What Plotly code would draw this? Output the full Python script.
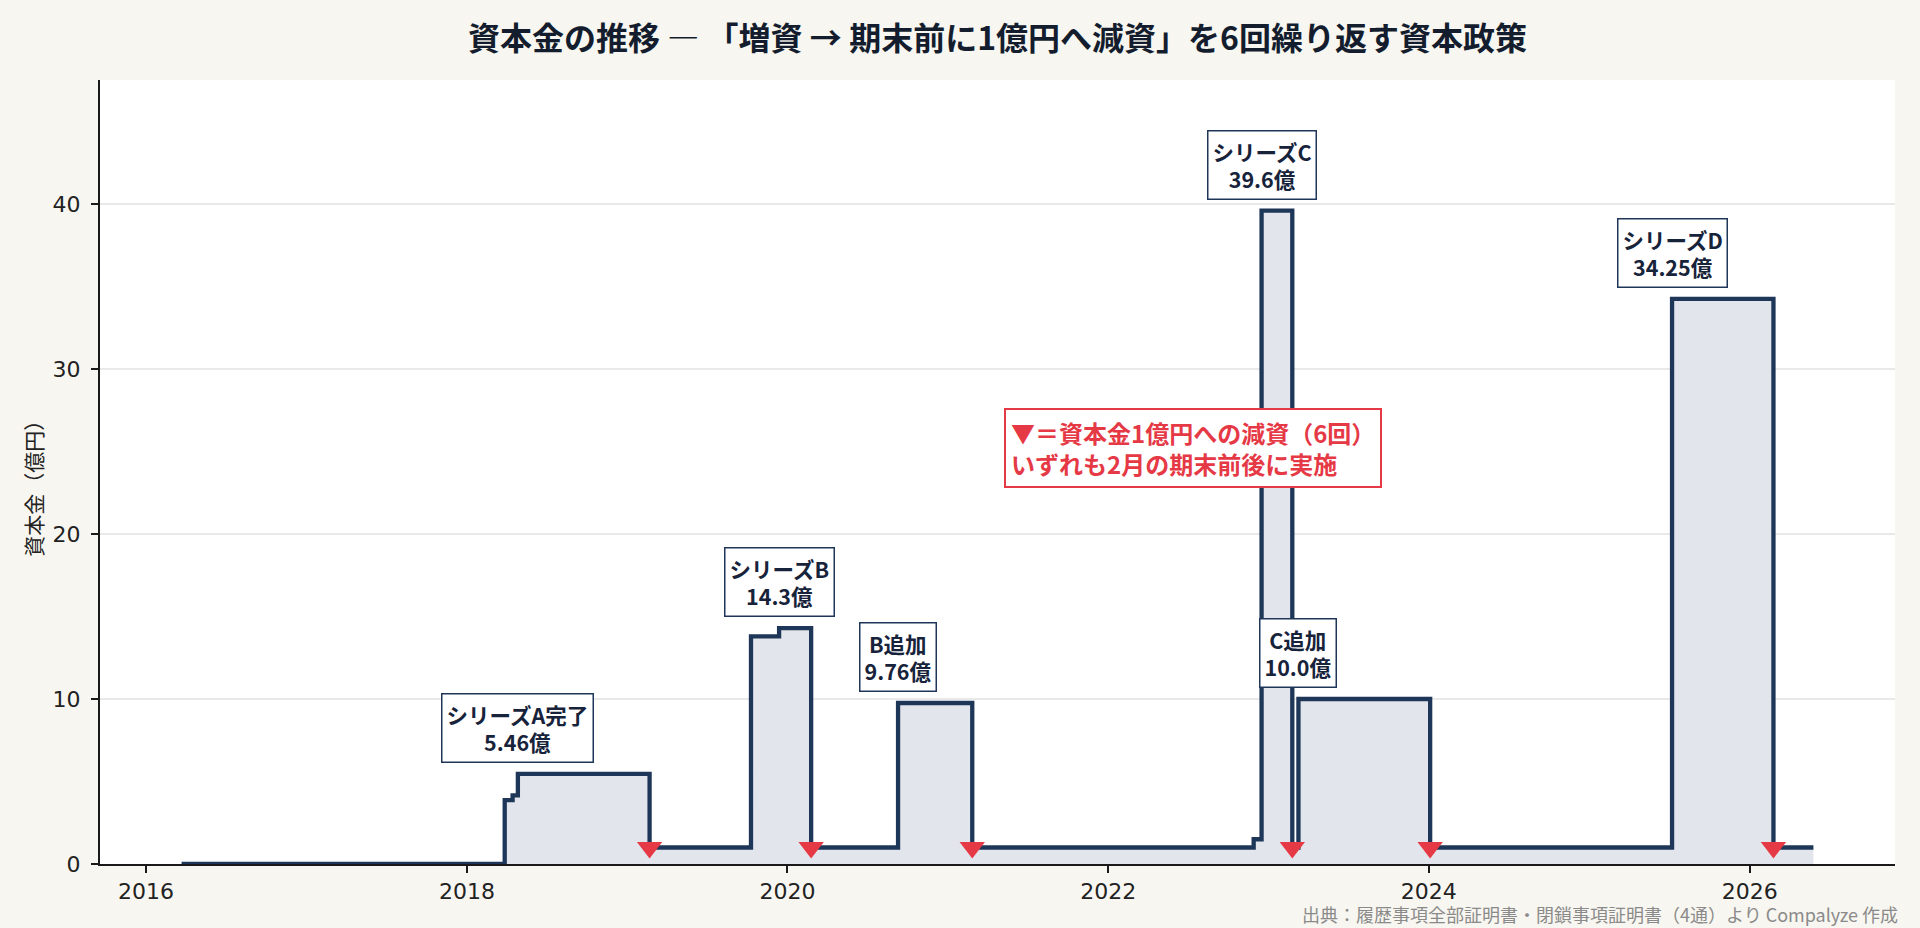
import plotly.graph_objects as go
import pandas as pd

# ---- data (億円) ----
capital_dates = ["2016-03-22", "2018-03-28", "2018-04-15", "2018-04-27", "2019-02-21",
                 "2019-10-10", "2019-12-13", "2020-02-24", "2020-09-09", "2021-02-25",
                 "2022-11-28", "2022-12-16", "2023-02-24", "2023-03-10", "2024-01-04",
                 "2025-07-08", "2026-02-24", "2026-05-26"]
capital_values = [0.01, 3.87, 4.16, 5.46, 1.0,
                  13.8, 14.3, 1.0, 9.76, 1.0,
                  1.5, 39.6, 1.0, 10.0, 1.0,
                  34.25, 1.0, 1.0]

reduction_dates = ["2019-02-21", "2020-02-24", "2021-02-25", "2023-02-24", "2024-01-04", "2026-02-24"]
reduction_values = [1.0, 1.0, 1.0, 1.0, 1.0, 1.0]

label_names = ["シリーズA完了", "シリーズB", "B追加", "シリーズC", "C追加", "シリーズD"]
label_dates = ["2018-04-27", "2019-12-13", "2020-09-09", "2022-12-16", "2023-03-10", "2025-07-08"]
label_values = [5.46, 14.3, 9.76, 39.6, 10.0, 34.25]
label_texts = ["5.46億", "14.3億", "9.76億", "39.6億", "10.0億", "34.25億"]

yticks = [0, 10, 20, 30, 40]

TITLE = "資本金の推移 ― 「増資 → 期末前に1億円へ減資」を6回繰り返す資本政策"
NOTE = "▼＝資本金1億円への減資（6回）<br>いずれも2月の期末前後に実施"
SOURCE = "出典：履歴事項全部証明書・閉鎖事項証明書（4通）より Compalyze 作成"
YLABEL = "資本金（億円）"

NAVY = "#1e3658"
RED = "#e63946"
CJK = "Noto Sans CJK JP"
TICKF = "DejaVu Sans"

d = pd.to_datetime(capital_dates)
span = d.max() - d.min()
xr = [d.min() - span * 0.05, d.max() + span * 0.05]

# plot area in pixels
L, R, T, B = 100, 25, 80, 63.5
PW, PH = 1920 - L - R, 928 - T - B

fig = go.Figure()
fig.add_trace(go.Scatter(
    x=capital_dates, y=capital_values, mode="lines", line_shape="hv",
    line=dict(color=NAVY, width=4.3), fill="tozeroy", fillcolor="#e2e6ec",
    hoverinfo="skip", showlegend=False))
fig.add_trace(go.Scatter(
    x=reduction_dates, y=reduction_values, mode="markers",
    marker=dict(symbol="triangle-down", size=22, color=RED, line=dict(width=0)),
    showlegend=False))

for n, dt, v, t in zip(label_names, label_dates, label_values, label_texts):
    fig.add_annotation(
        x=dt, y=v, xref="x", yref="y", text=f"<b>{n}<br>{t}</b>", showarrow=False,
        xanchor="center", yanchor="bottom", yshift=11,
        font=dict(family=CJK, size=21.5, color="#17233a"),
        bgcolor="white", bordercolor=NAVY, borderwidth=1.5, borderpad=4)

fig.add_annotation(
    x="2022-07-12", y=25.2, xref="x", yref="y", text=f"<b>{NOTE}</b>", showarrow=False,
    xanchor="center", yanchor="middle", align="left",
    font=dict(family=CJK, size=24, color=RED),
    bgcolor="white", bordercolor=RED, borderwidth=2, borderpad=5)

fig.add_annotation(
    x=1, y=(PH - (915 - T)) / PH, xref="paper", yref="paper", text=SOURCE, showarrow=False,
    xanchor="right", yanchor="middle", xshift=5,
    font=dict(family=CJK, size=18, color="#8a8a8a"))

fig.add_annotation(
    x=(33 - L) / PW, y=(PH - (484 - T)) / PH, xref="paper", yref="paper", text=YLABEL,
    showarrow=False, textangle=-90, xanchor="center", yanchor="middle",
    font=dict(family=CJK, size=21, color="#222"))

fig.update_layout(
    width=1920, height=928,
    paper_bgcolor="#f8f6f0", plot_bgcolor="white",
    margin=dict(l=L, r=R, t=T, b=B),
    title=dict(text=f"<b>{TITLE}</b>", x=0.5, xref="paper", y=1 - 39 / 928, yref="container",
               xanchor="center", yanchor="middle",
               font=dict(family=CJK, size=32, color="#141d2e")),
    font=dict(family=TICKF, color="#222"),
    showlegend=False,
)
fig.update_xaxes(
    type="date", range=xr, tickformat="%Y", dtick="M24", tick0="2016-01-01",
    showgrid=False, showline=True, linecolor="#1a1a1a", linewidth=2,
    ticks="outside", ticklen=7, tickwidth=2, tickcolor="#1a1a1a",
    tickfont=dict(family=TICKF, size=22, color="#222"), zeroline=False,
)
fig.update_yaxes(
    range=[0, max(capital_values) * 1.2], tickvals=yticks,
    showgrid=True, gridcolor="#e9e9e9", gridwidth=1.5,
    showline=True, linecolor="#1a1a1a", linewidth=2,
    ticks="outside", ticklen=7, tickwidth=2, tickcolor="#1a1a1a",
    tickfont=dict(family=TICKF, size=22, color="#222"), zeroline=False,
    ticklabelstandoff=6,
)

fig.write_html("out.html")
